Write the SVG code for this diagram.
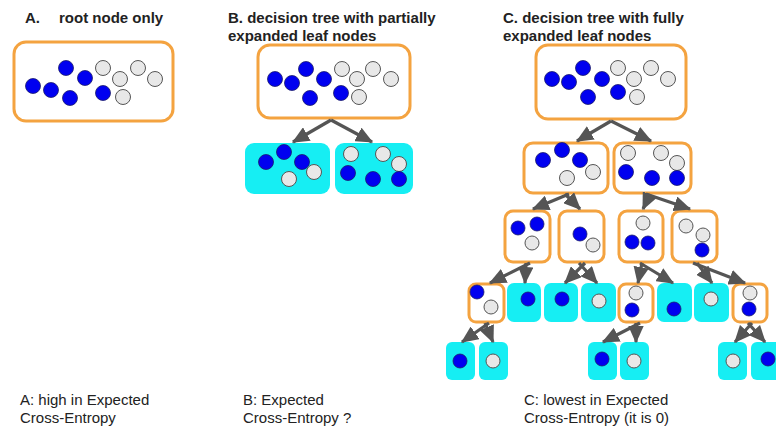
<svg xmlns="http://www.w3.org/2000/svg" width="776" height="428" viewBox="0 0 776 428">
  <style>
    .title { font-family: "Liberation Sans", Arial, sans-serif; font-size: 15px; font-weight: bold; fill: #222; }
    .note { font-family: "Liberation Sans", Arial, sans-serif; font-size: 15px; fill: #222; }
    .inner { fill: #fff; stroke: #F4A340; stroke-width: 3; }
    .leaf { fill: #16EEF3; stroke: none; }
    .b { fill: #0000F0; stroke: #1a1a6a; stroke-width: 0.8; }
    .g { fill: #E8E8E8; stroke: #555; stroke-width: 1; }
    .edge { stroke: #555; stroke-width: 3.2; fill: none; marker-end: url(#head); }
  </style>
  <defs>
    <marker id="head" markerWidth="5.4" markerHeight="4.8" refX="5" refY="2.4" orient="auto">
      <path d="M0,0 L5.4,2.4 L0,4.8 z" fill="#555"/>
    </marker>
  </defs>
  <rect width="776" height="428" fill="#fff"/>

  <!-- headings -->
  <text class="title" x="25" y="23">A.</text>
  <text class="title" x="59" y="23">root node only</text>
  <text class="title" x="228" y="23">B. decision tree with partially</text>
  <text class="title" x="228" y="41">expanded leaf nodes</text>
  <text class="title" x="503" y="23">C. decision tree with fully</text>
  <text class="title" x="503" y="41">expanded leaf nodes</text>

  <!-- A: root only -->
  <g id="a-root">
    <rect class="inner" x="14" y="42" width="159" height="79" rx="12"/>
    <circle class="b" cx="33" cy="86" r="7.5"/>
    <circle class="b" cx="51" cy="90" r="7.5"/>
    <circle class="b" cx="66" cy="68" r="7.5"/>
    <circle class="b" cx="70" cy="98" r="7.5"/>
    <circle class="b" cx="85" cy="78" r="7.5"/>
    <circle class="b" cx="103" cy="93" r="7.5"/>
    <circle class="g" cx="103" cy="68" r="7.5"/>
    <circle class="g" cx="120" cy="79" r="7.5"/>
    <circle class="g" cx="138" cy="68" r="7.5"/>
    <circle class="g" cx="155" cy="79" r="7.5"/>
    <circle class="g" cx="123" cy="97" r="7.5"/>
  </g>

  <!-- B: root with two leaves -->
  <g id="b-root">
    <rect class="inner" x="258" y="45" width="152" height="73" rx="12"/>
    <circle class="b" cx="275" cy="79" r="7.5"/>
    <circle class="b" cx="292" cy="83" r="7.5"/>
    <circle class="b" cx="306" cy="69" r="7.5"/>
    <circle class="b" cx="310" cy="98" r="7.5"/>
    <circle class="b" cx="324" cy="79" r="7.5"/>
    <circle class="b" cx="341" cy="93" r="7.5"/>
    <circle class="g" cx="342" cy="69" r="7.5"/>
    <circle class="g" cx="357" cy="79" r="7.5"/>
    <circle class="g" cx="373" cy="69" r="7.5"/>
    <circle class="g" cx="391" cy="79" r="7.5"/>
    <circle class="g" cx="359" cy="97" r="7.5"/>
  </g>
  <g id="b-leaf-left">
    <rect class="leaf" x="245" y="143" width="85" height="51" rx="9"/>
    <circle class="b" cx="266" cy="162" r="7.5"/>
    <circle class="b" cx="284" cy="152" r="7.5"/>
    <circle class="b" cx="302" cy="162" r="7.5"/>
    <circle class="g" cx="289" cy="179" r="7.5"/>
    <circle class="g" cx="314" cy="172" r="7.5"/>
  </g>
  <g id="b-leaf-right">
    <rect class="leaf" x="335" y="143" width="78" height="51" rx="9"/>
    <circle class="g" cx="351" cy="154" r="7.5"/>
    <circle class="g" cx="383" cy="154" r="7.5"/>
    <circle class="g" cx="399" cy="164" r="7.5"/>
    <circle class="b" cx="348" cy="173" r="7.5"/>
    <circle class="b" cx="373" cy="179" r="7.5"/>
    <circle class="b" cx="399" cy="179" r="7.5"/>
  </g>

  <!-- C: fully grown tree -->
  <g id="c-root">
    <rect class="inner" x="536" y="45" width="150" height="74" rx="12"/>
    <circle class="b" cx="552" cy="79" r="7.5"/>
    <circle class="b" cx="569" cy="82" r="7.5"/>
    <circle class="b" cx="583" cy="68" r="7.5"/>
    <circle class="b" cx="602" cy="79" r="7.5"/>
    <circle class="b" cx="588" cy="97" r="7.5"/>
    <circle class="b" cx="618" cy="92" r="7.5"/>
    <circle class="g" cx="618" cy="68" r="7.5"/>
    <circle class="g" cx="634" cy="79" r="7.5"/>
    <circle class="g" cx="651" cy="68" r="7.5"/>
    <circle class="g" cx="668" cy="79" r="7.5"/>
    <circle class="g" cx="637" cy="97" r="7.5"/>
  </g>
  <g id="c-l2-left">
    <rect class="inner" x="524" y="143" width="84" height="50" rx="9"/>
    <circle class="b" cx="543" cy="160" r="7.5"/>
    <circle class="b" cx="562" cy="150" r="7.5"/>
    <circle class="b" cx="580" cy="160" r="7.5"/>
    <circle class="g" cx="567" cy="178" r="7.5"/>
    <circle class="g" cx="593" cy="172" r="7.5"/>
  </g>
  <g id="c-l2-right">
    <rect class="inner" x="614" y="143" width="77" height="50" rx="9"/>
    <circle class="g" cx="628" cy="153" r="7.5"/>
    <circle class="g" cx="661" cy="153" r="7.5"/>
    <circle class="g" cx="677" cy="163" r="7.5"/>
    <circle class="b" cx="626" cy="172" r="7.5"/>
    <circle class="b" cx="652" cy="178" r="7.5"/>
    <circle class="b" cx="677" cy="178" r="7.5"/>
  </g>

  <g id="c-l3-1">
    <rect class="inner" x="505" y="211" width="45" height="51" rx="8"/>
    <circle class="b" cx="518" cy="228" r="7"/>
    <circle class="b" cx="537" cy="224" r="7"/>
    <circle class="g" cx="532" cy="243" r="7"/>
  </g>
  <g id="c-l3-2">
    <rect class="inner" x="559" y="211" width="45" height="51" rx="8"/>
    <circle class="b" cx="580" cy="234" r="7"/>
    <circle class="g" cx="593" cy="245" r="7"/>
  </g>
  <g id="c-l3-3">
    <rect class="inner" x="619" y="211" width="44" height="51" rx="8"/>
    <circle class="g" cx="643" cy="223" r="7"/>
    <circle class="b" cx="632" cy="242" r="7"/>
    <circle class="b" cx="648" cy="243" r="7"/>
  </g>
  <g id="c-l3-4">
    <rect class="inner" x="672" y="211" width="45" height="51" rx="8"/>
    <circle class="g" cx="686" cy="226" r="7"/>
    <circle class="g" cx="703" cy="235" r="7"/>
    <circle class="b" cx="702" cy="250" r="7"/>
  </g>

  <g id="c-l4-a">
    <rect class="inner" x="469" y="284" width="35" height="38" rx="7"/>
    <circle class="b" cx="477" cy="292" r="7"/>
    <circle class="g" cx="491" cy="307" r="7"/>
  </g>
  <g id="c-l4-b">
    <rect class="leaf" x="507" y="283" width="34" height="39" rx="7"/>
    <circle class="b" cx="528" cy="299" r="7"/>
  </g>
  <g id="c-l4-c">
    <rect class="leaf" x="544" y="283" width="34" height="39" rx="7"/>
    <circle class="b" cx="562" cy="299" r="7"/>
  </g>
  <g id="c-l4-d">
    <rect class="leaf" x="581" y="283" width="35" height="39" rx="7"/>
    <circle class="g" cx="599" cy="301" r="7"/>
  </g>
  <g id="c-l4-e">
    <rect class="inner" x="619" y="284" width="34" height="38" rx="7"/>
    <circle class="g" cx="636" cy="293" r="7"/>
    <circle class="b" cx="632" cy="310" r="7"/>
  </g>
  <g id="c-l4-f">
    <rect class="leaf" x="657" y="283" width="35" height="39" rx="7"/>
    <circle class="b" cx="674" cy="309" r="7"/>
  </g>
  <g id="c-l4-g">
    <rect class="leaf" x="694" y="283" width="35" height="39" rx="7"/>
    <circle class="g" cx="711" cy="299" r="7"/>
  </g>
  <g id="c-l4-h">
    <rect class="inner" x="733" y="284" width="34" height="38" rx="7"/>
    <circle class="g" cx="750" cy="293" r="7"/>
    <circle class="b" cx="749" cy="309" r="7"/>
  </g>

  <g id="c-l5-1">
    <rect class="leaf" x="446" y="342" width="29" height="38" rx="6"/>
    <circle class="b" cx="460" cy="361" r="7"/>
  </g>
  <g id="c-l5-2">
    <rect class="leaf" x="479" y="342" width="29" height="38" rx="6"/>
    <circle class="g" cx="493" cy="361" r="7"/>
  </g>
  <g id="c-l5-3">
    <rect class="leaf" x="588" y="342" width="29" height="38" rx="6"/>
    <circle class="b" cx="602" cy="359" r="7"/>
  </g>
  <g id="c-l5-4">
    <rect class="leaf" x="620" y="342" width="29" height="38" rx="6"/>
    <circle class="g" cx="634" cy="361" r="7"/>
  </g>
  <g id="c-l5-5">
    <rect class="leaf" x="718" y="342" width="29" height="38" rx="6"/>
    <circle class="g" cx="733" cy="361" r="7"/>
  </g>
  <g id="c-l5-6">
    <rect class="leaf" x="751" y="342" width="32" height="38" rx="6"/>
    <circle class="b" cx="768" cy="359" r="7"/>
  </g>

  <!-- connectors -->
  <g id="edges">
    <line class="edge" x1="331" y1="120" x2="293" y2="142"/>
    <line class="edge" x1="331" y1="120" x2="372" y2="142"/>

    <line class="edge" x1="611" y1="121" x2="577" y2="141"/>
    <line class="edge" x1="611" y1="121" x2="651" y2="141"/>

    <line class="edge" x1="569" y1="194" x2="533" y2="209"/>
    <line class="edge" x1="565" y1="194" x2="580" y2="209"/>
    <line class="edge" x1="650" y1="194" x2="643" y2="209"/>
    <line class="edge" x1="646" y1="194" x2="690" y2="209"/>

    <line class="edge" x1="530" y1="263" x2="490" y2="283"/>
    <line class="edge" x1="526" y1="263" x2="525" y2="283"/>
    <line class="edge" x1="585" y1="263" x2="565" y2="283"/>
    <line class="edge" x1="579" y1="263" x2="597" y2="283"/>
    <line class="edge" x1="642" y1="263" x2="638" y2="283"/>
    <line class="edge" x1="640" y1="263" x2="673" y2="283"/>
    <line class="edge" x1="697" y1="263" x2="712" y2="283"/>
    <line class="edge" x1="693" y1="263" x2="745" y2="283"/>

    <line class="edge" x1="489" y1="323" x2="462" y2="342"/>
    <line class="edge" x1="485" y1="323" x2="493" y2="342"/>
    <line class="edge" x1="640" y1="323" x2="603" y2="342"/>
    <line class="edge" x1="636" y1="323" x2="636" y2="342"/>
    <line class="edge" x1="752" y1="323" x2="735" y2="342"/>
    <line class="edge" x1="748" y1="323" x2="765" y2="342"/>
  </g>

  <!-- captions -->
  <text class="note" x="20" y="405">A: high in Expected</text>
  <text class="note" x="20" y="423">Cross-Entropy</text>
  <text class="note" x="243" y="405">B: Expected</text>
  <text class="note" x="243" y="423">Cross-Entropy ?</text>
  <text class="note" x="524" y="405">C: lowest in Expected</text>
  <text class="note" x="524" y="423">Cross-Entropy (it is 0)</text>
</svg>
